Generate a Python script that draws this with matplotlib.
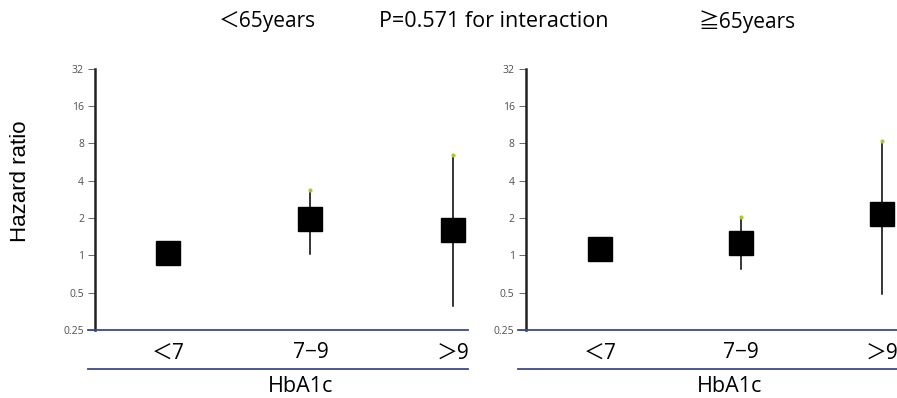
#!/usr/bin/python3
import matplotlib
matplotlib.use("Agg")
import matplotlib.pyplot as plt
from matplotlib.lines import Line2D

plt.rcParams['font.family'] = ['Open Sans', 'Noto Sans CJK JP', 'DejaVu Sans']

categories = ["＜7", "7−9", "＞9"]
y_ticks = [0.25, 0.5, 1, 2, 4, 8, 16, 32]
y_tick_labels = ["0.25", "0.5", "1", "2", "4", "8", "16", "32"]

# under 65 years
hr_young = [1.05, 1.98, 1.60]
low_young = [None, 1.02, 0.39]
high_young = [None, 3.35, 6.5]

# 65 years and over
hr_old = [1.12, 1.25, 2.16]
low_old = [None, 0.77, 0.49]
high_old = [None, 2.04, 8.36]

blue = "#3B4A8C"


def draw_panel(fig, rect, hr, low, high, xlim):
    ax = fig.add_axes(rect)
    ax.set_yscale("log", base=2)
    ax.set_ylim(0.25, 32)
    ax.set_xlim(*xlim)
    x = list(range(len(categories)))

    # confidence intervals
    for i in x:
        if low[i] is None:
            continue
        ax.plot([i, i], [low[i], high[i]], color="black", lw=1.1, zorder=2)
        ax.plot(i, high[i], marker="o", ms=2, color="#B8C040", zorder=3)

    ax.plot(x, hr, linestyle="none", marker="s", ms=17, color="black",
            markeredgecolor="black", zorder=4)

    ax.set_yticks(y_ticks)
    ax.set_yticklabels(y_tick_labels)
    ax.minorticks_off()
    ax.tick_params(axis="y", labelsize=7.5, colors="#505050", length=5,
                   width=0.6, pad=3)
    ax.set_xticks(x)
    ax.set_xticklabels(categories, fontsize=15)
    ax.tick_params(axis="x", length=0, pad=9)

    ax.spines["top"].set_visible(False)
    ax.spines["right"].set_visible(False)
    ax.spines["left"].set_linewidth(1.8)
    ax.spines["left"].set_color("#222222")
    ax.spines["bottom"].set_color(blue)
    ax.spines["bottom"].set_linewidth(1.3)

    # lower separator line under category labels
    ax.add_line(Line2D([-0.02, 1.0], [-0.15, -0.15], transform=ax.transAxes,
                       color=blue, lw=1.3, clip_on=False))
    ax.add_line(Line2D([-0.02, 0.0], [0.0, 0.0], transform=ax.transAxes,
                       color=blue, lw=1.3, clip_on=False))
    ax.text(0.55, -0.218, "HbA1c", transform=ax.transAxes, fontsize=15.5,
            ha="center", va="center")
    return ax


def main():
    fig = plt.figure(figsize=(8.97, 3.98), dpi=100)

    draw_panel(fig, [0.106, 0.171, 0.416, 0.656], hr_young, low_young,
               high_young, (-0.514, 2.11))
    draw_panel(fig, [0.586, 0.171, 0.414, 0.656], hr_old, low_old,
               high_old, (-0.527, 2.11))

    fig.text(0.298, 0.945, "＜65years", fontsize=15, ha="center", va="center")
    fig.text(0.551, 0.945, "P=0.571 for interaction", fontsize=15.5,
             ha="center", va="center")
    fig.text(0.833, 0.945, "≧65years", fontsize=15, ha="center", va="center")
    fig.text(0.023, 0.545, "Hazard ratio", fontsize=16, rotation=90,
             ha="center", va="center", family="Liberation Sans")

    fig.savefig("out.png", dpi=100)


if __name__ == '__main__':
    main()
